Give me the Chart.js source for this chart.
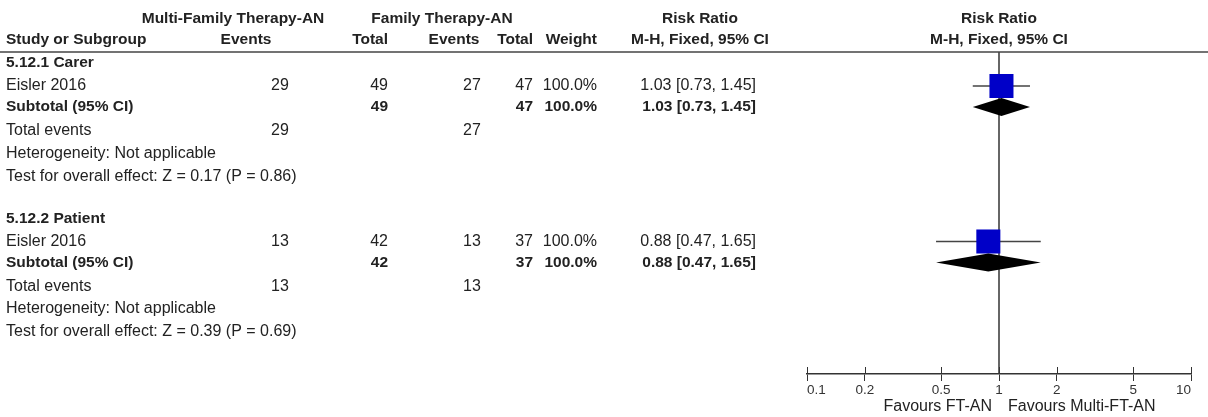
<!DOCTYPE html>
<html>
<head>
<meta charset="utf-8">
<script src="https://cdn.jsdelivr.net/npm/chart.js@4/dist/chart.umd.min.js"></script>
<style>
  html, body { margin: 0; padding: 0; background: #fff; }
  #wrap { width: 1208px; height: 417px; }
</style>
</head>
<body>
<div id="wrap"><canvas id="chartForest"></canvas></div>
<script>
// data
const groupNames = ['5.12.1 Carer', '5.12.2 Patient'];
const studyNames = ['Eisler 2016', 'Eisler 2016'];
const mfEvents = [29, 13];
const mfTotal = [49, 42];
const ftEvents = [27, 13];
const ftTotal = [47, 37];
const weights = [100.0, 100.0];
const rr = [1.03, 0.88];
const ciLow = [0.73, 0.47];
const ciHigh = [1.45, 1.65];
const subRR = [1.03, 0.88];
const subLow = [0.73, 0.47];
const subHigh = [1.45, 1.65];
const zValues = [0.17, 0.39];
const pValues = [0.86, 0.69];
const xTicks = [0.1, 0.2, 0.5, 1, 2, 5, 10];

// layout (pixels below the header rule)
const groupTop = [0, 155.5];
const rowOff = { title: 11, study: 34, sub: 55, total: 79, het: 101.5, test: 124.5 };

const font = 'Liberation Sans, Arial, sans-serif';
const fmt = v => v.toFixed(2);
const ciText = (m, l, h) => fmt(m) + ' [' + fmt(l) + ', ' + fmt(h) + ']';

const boxData = rr.map((v, i) => ({ x: v, y: groupTop[i] + rowOff.study }));
const ciSets = rr.map((v, i) => ({
    type: 'line',
    data: [{ x: ciLow[i], y: groupTop[i] + rowOff.study }, { x: ciHigh[i], y: groupTop[i] + rowOff.study }],
    borderColor: '#444',
    borderWidth: 1.5,
    pointRadius: 0,
    order: 2
}));

const tablePlugin = {
    id: 'forestTable',
    beforeDatasetsDraw(chart) {
        const { ctx, chartArea, scales: { x } } = chart;
        ctx.save();
        // line of no effect
        ctx.strokeStyle = '#333';
        ctx.lineWidth = 1.5;
        ctx.beginPath();
        ctx.moveTo(x.getPixelForValue(1), chartArea.top);
        ctx.lineTo(x.getPixelForValue(1), chartArea.bottom);
        ctx.stroke();
        ctx.restore();
    },
    afterDatasetsDraw(chart) {
        const { ctx, chartArea, scales: { x, y } } = chart;
        ctx.save();
        // pooled diamonds
        ctx.fillStyle = '#000';
        subRR.forEach((v, i) => {
            const cy = y.getPixelForValue(groupTop[i] + rowOff.sub);
            ctx.beginPath();
            ctx.moveTo(x.getPixelForValue(subLow[i]), cy);
            ctx.lineTo(x.getPixelForValue(v), cy - 9);
            ctx.lineTo(x.getPixelForValue(subHigh[i]), cy);
            ctx.lineTo(x.getPixelForValue(v), cy + 9);
            ctx.closePath();
            ctx.fill();
        });
        // upper half of the axis ticks
        ctx.strokeStyle = '#333';
        ctx.lineWidth = 1;
        xTicks.forEach(t => {
            const px = Math.round(x.getPixelForValue(t)) + 0.5;
            ctx.beginPath();
            ctx.moveTo(px, chartArea.bottom - 7);
            ctx.lineTo(px, chartArea.bottom);
            ctx.stroke();
        });

        const txt = (s, px, py, align, bold) => {
            ctx.font = bold ? 'bold 15.5px ' + font : '16px ' + font;
            ctx.textAlign = align;
            ctx.fillText(s, px, py);
        };
        ctx.fillStyle = '#222';
        ctx.textBaseline = 'middle';
        const xOne = x.getPixelForValue(1);

        // header
        txt('Multi-Family Therapy-AN', 233, 19, 'center', true);
        txt('Family Therapy-AN', 442, 19, 'center', true);
        txt('Risk Ratio', 700, 19, 'center', true);
        txt('Risk Ratio', xOne, 19, 'center', true);
        txt('Study or Subgroup', 6, 40, 'left', true);
        txt('Events', 246, 40, 'center', true);
        txt('Total', 388, 40, 'right', true);
        txt('Events', 454, 40, 'center', true);
        txt('Total', 533, 40, 'right', true);
        txt('Weight', 597, 40, 'right', true);
        txt('M-H, Fixed, 95% CI', 700, 40, 'center', true);
        txt('M-H, Fixed, 95% CI', xOne, 40, 'center', true);
        ctx.strokeStyle = '#444';
        ctx.lineWidth = 1.5;
        ctx.beginPath();
        ctx.moveTo(0, chartArea.top);
        ctx.lineTo(1208, chartArea.top);
        ctx.stroke();

        groupNames.forEach((g, i) => {
            const ry = k => y.getPixelForValue(groupTop[i] + rowOff[k]);
            txt(g, 6, ry('title'), 'left', true);

            txt(studyNames[i], 6, ry('study'), 'left', false);
            txt(String(mfEvents[i]), 280, ry('study'), 'center', false);
            txt(String(mfTotal[i]), 388, ry('study'), 'right', false);
            txt(String(ftEvents[i]), 472, ry('study'), 'center', false);
            txt(String(ftTotal[i]), 533, ry('study'), 'right', false);
            txt(weights[i].toFixed(1) + '%', 597, ry('study'), 'right', false);
            txt(ciText(rr[i], ciLow[i], ciHigh[i]), 756, ry('study'), 'right', false);

            txt('Subtotal (95% CI)', 6, ry('sub'), 'left', true);
            txt(String(mfTotal[i]), 388, ry('sub'), 'right', true);
            txt(String(ftTotal[i]), 533, ry('sub'), 'right', true);
            txt(weights[i].toFixed(1) + '%', 597, ry('sub'), 'right', true);
            txt(ciText(subRR[i], subLow[i], subHigh[i]), 756, ry('sub'), 'right', true);

            txt('Total events', 6, ry('total'), 'left', false);
            txt(String(mfEvents[i]), 280, ry('total'), 'center', false);
            txt(String(ftEvents[i]), 472, ry('total'), 'center', false);
            txt('Heterogeneity: Not applicable', 6, ry('het'), 'left', false);
            txt('Test for overall effect: Z = ' + fmt(zValues[i]) + ' (P = ' + fmt(pValues[i]) + ')', 6, ry('test'), 'left', false);
        });

        // favours labels
        txt('Favours FT-AN', xOne - 7, 407, 'right', false);
        txt('Favours Multi-FT-AN', xOne + 9, 407, 'left', false);
        ctx.restore();
    }
};

const ctxForest = document.getElementById('chartForest').getContext('2d');
const chartForest = new Chart(ctxForest, {
    type: 'scatter',
    data: {
        datasets: [{
            label: 'Study',
            data: boxData,
            pointStyle: 'rect',
            pointRadius: 17,
            pointHoverRadius: 17,
            backgroundColor: '#0000C8',
            borderColor: '#0000C8',
            borderWidth: 0,
            order: 1
        }].concat(ciSets)
    },
    options: {
        responsive: true,
        maintainAspectRatio: false,
        animation: false,
        events: [],
        layout: { padding: { left: 807, right: 17, top: 52, bottom: 0 } },
        plugins: { legend: { display: false }, tooltip: { enabled: false } },
        scales: {
            x: {
                type: 'logarithmic',
                min: 0.1,
                max: 10,
                afterBuildTicks: s => { s.ticks = xTicks.map(v => ({ value: v })); },
                afterFit: s => { s.height = 43; },
                ticks: {
                    callback: v => String(v),
                    color: '#333',
                    font: { family: font, size: 13.5 },
                    padding: 1,
                    align: 'inner',
                    maxRotation: 0,
                    autoSkip: false
                },
                grid: { drawOnChartArea: false, drawTicks: true, tickLength: 7, color: '#333' },
                border: { display: true, color: '#333', width: 1.5 }
            },
            y: {
                type: 'linear',
                display: false,
                reverse: true,
                min: 0,
                max: 322
            }
        }
    },
    plugins: [tablePlugin]
});
</script>
</body>
</html>
